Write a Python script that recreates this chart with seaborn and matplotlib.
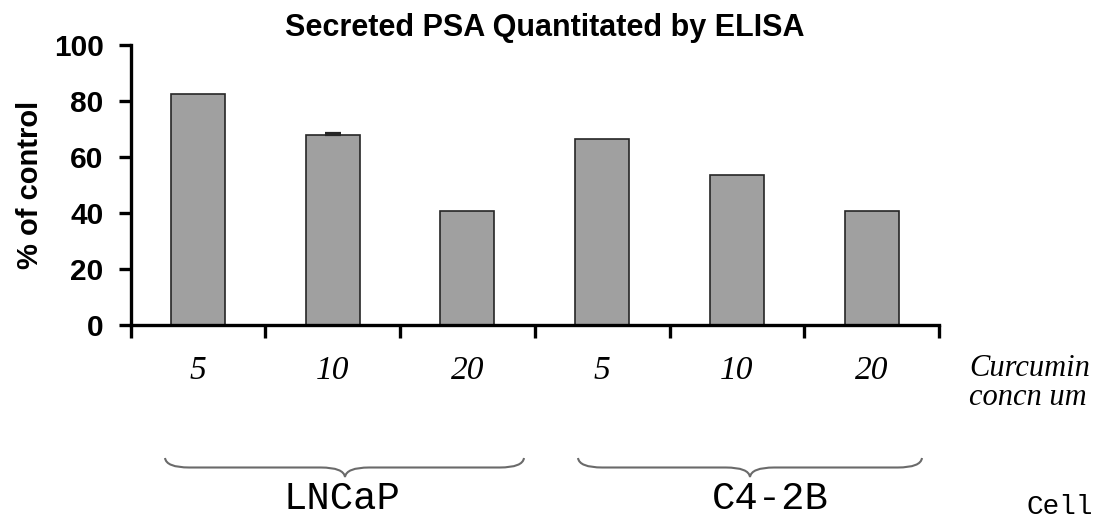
import matplotlib
matplotlib.use("Agg")
import matplotlib.pyplot as plt
from matplotlib.path import Path
from matplotlib.patches import PathPatch
from matplotlib.transforms import blended_transform_factory
import seaborn as sns
import pandas as pd

# Secreted PSA (% of untreated control) by curcumin dose and cell line
cell_lines = ["LNCaP", "LNCaP", "LNCaP", "C4-2B", "C4-2B", "C4-2B"]
doses = ["5", "10", "20", "5", "10", "20"]
psa_pct = [82.3, 67.6, 40.5, 66.2, 53.5, 40.5]
psa_err = [0.0, 1.0, 0.0, 0.0, 0.0, 0.0]
y_ticks = [0, 20, 40, 60, 80, 100]

df = pd.DataFrame({
    "key": [f"{c} {d}" for c, d in zip(cell_lines, doses)],
    "dose": doses,
    "cell": cell_lines,
    "pct": psa_pct,
    "err": psa_err,
})

sns.set_theme(style="white")
plt.rcParams["font.family"] = ["Liberation Sans", "DejaVu Sans"]
plt.rcParams["text.color"] = "black"
plt.rcParams["axes.labelcolor"] = "black"
plt.rcParams["xtick.color"] = "black"
plt.rcParams["ytick.color"] = "black"

W, H = 1101, 523
fig = plt.figure(figsize=(W / 100, H / 100), dpi=100)
ax = fig.add_axes([130.6 / W, 1 - 325 / H, (939 - 130.6) / W, (325 - 44.6) / H])

sns.barplot(data=df, x="key", y="pct", order=list(df["key"]), ax=ax,
            color="#a0a0a0", saturation=1, width=0.4,
            edgecolor="#262626", linewidth=1.2, errorbar=None)

# upper-only error bars where an error was measured
pos = list(range(len(df)))
for i, (v, e) in enumerate(zip(df["pct"], df["err"])):
    if e > 0:
        ax.errorbar(pos[i], v, yerr=[[0], [e]], fmt="none", ecolor="#262626",
                    elinewidth=1.2, capsize=6, capthick=1.6, zorder=5)

ax.set_xlim(-0.5, len(df) - 0.5)
ax.set_ylim(0, 100)
ax.set_yticks(y_ticks)
ax.set_yticklabels([str(t) for t in y_ticks], fontsize=21.5, fontweight="bold")

# major ticks on category boundaries, labels on category centres
ax.set_xticks([p - 0.5 for p in pos] + [len(df) - 0.5])
ax.set_xticklabels([])
ax.set_xticks(pos, minor=True)
ax.set_xticklabels(df["dose"], minor=True, fontsize=24, style="italic",
                   family=["Liberation Serif", "DejaVu Serif"])
ax.tick_params(axis="x", which="major", direction="out", length=9, width=2.4,
               color="black", bottom=True)
ax.tick_params(axis="x", which="minor", length=0, pad=22)
ax.tick_params(axis="y", direction="out", length=8.5, width=2.4, color="black",
               left=True, pad=11, labelcolor="black")

for side in ["top", "right"]:
    ax.spines[side].set_visible(False)
for side in ["left", "bottom"]:
    ax.spines[side].set_linewidth(2.4)
    ax.spines[side].set_color("black")

ax.set_xlabel("")
ax.set_ylabel("% of control", fontsize=21, fontweight="bold", labelpad=7)

fig.text(545 / W, 1 - 28 / H, "Secreted PSA Quantitated by ELISA",
         ha="center", va="center", fontsize=22, fontweight="bold")

serif = ["Liberation Serif", "DejaVu Serif"]
fig.text(969 / W, 1 - 376 / H, "Curcumin", ha="left", va="baseline",
         fontsize=22, style="italic", family=serif)
fig.text(969 / W, 1 - 405 / H, "concn um", ha="left", va="baseline",
         fontsize=22, style="italic", family=serif)


def brace(ax, x0, x1, xtip, ytop, ybot):
    """Downward curly brace between data x0 and x1 at figure-fraction heights."""
    tr = blended_transform_factory(ax.transData, ax.figure.transFigure)
    ymid = (ytop + ybot) / 2
    r = 0.18
    verts = [
        (x0, ytop),
        (x0 + 0.01, ymid), (x0 + r, ymid),
        (xtip - r, ymid),
        (xtip - 0.01, ymid), (xtip, ybot),
        (xtip + 0.01, ymid), (xtip + r, ymid),
        (x1 - r, ymid),
        (x1 - 0.01, ymid), (x1, ytop),
    ]
    codes = [Path.MOVETO,
             Path.CURVE3, Path.CURVE3,
             Path.LINETO,
             Path.CURVE3, Path.CURVE3,
             Path.CURVE3, Path.CURVE3,
             Path.LINETO,
             Path.CURVE3, Path.CURVE3]
    patch = PathPatch(Path(verts, codes), fill=False, edgecolor="#6a6a6a",
                      linewidth=1.5, transform=tr, clip_on=False)
    ax.add_patch(patch)


def px2x(px):
    return (px - 130.6) / ((939 - 130.6) / len(df)) - 0.5


brace(ax, px2x(165), px2x(524), px2x(345), 1 - 458 / H, 1 - 477 / H)
brace(ax, px2x(578), px2x(922), px2x(750), 1 - 458 / H, 1 - 477 / H)

mono = ["Liberation Mono", "DejaVu Sans Mono"]
fig.text(342 / W, 1 - 499 / H, "LNCaP", ha="center", va="center",
         fontsize=28, family=mono)
fig.text(770 / W, 1 - 499 / H, "C4-2B", ha="center", va="center",
         fontsize=28, family=mono)
fig.text(1060 / W, 1 - 507 / H, "Cell", ha="center", va="center",
         fontsize=20, family=mono)

fig.savefig("out.png", dpi=100, facecolor="white")
